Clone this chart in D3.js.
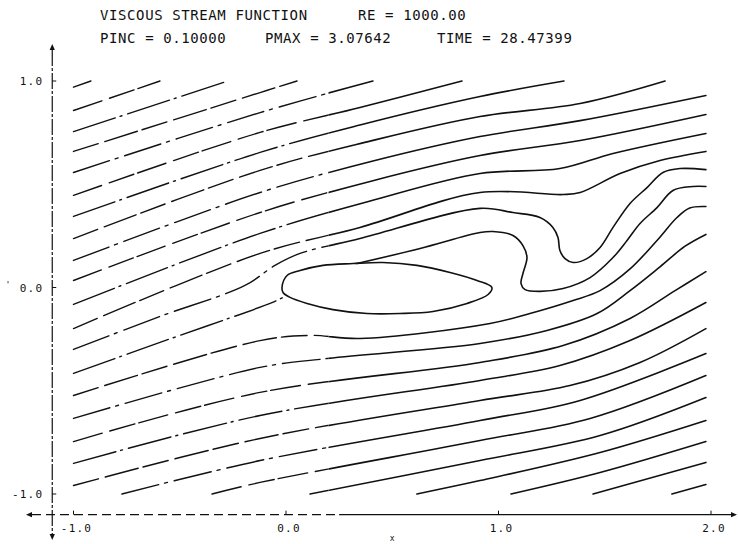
<!DOCTYPE html>
<html>
<head>
<meta charset="utf-8">
<script src="https://cdn.jsdelivr.net/npm/d3@7"></script>
<style>
  body { margin: 0; background: #fff; }
  svg { display: block; }
  text { font-family: "DejaVu Sans Mono", monospace; fill: #111; }
</style>
</head>
<body>
<div class="container"></div>
<script>
// streamlines, in (x, y) data units
const upperLines = [
  [[-1.0, 0.97], [-0.918, 1.0]],
  [[-1.0, 0.857], [-0.593, 1.0]],
  [[-1.0, 0.755], [-0.273, 1.0]],
  [[-1.0, 0.659], [-0.122, 0.944], [0.052, 1.0]],
  [[-1.0, 0.557], [-0.122, 0.847], [0.409, 1.0]],
  [[-1.0, 0.446], [-0.122, 0.751], [0.348, 0.872], [0.828, 1.0]],
  [[-1.0, 0.344], [-0.122, 0.654], [0.348, 0.787], [0.913, 0.925], [1.308, 1.0]],
  [[-1.0, 0.237], [-0.122, 0.567], [0.4, 0.71], [0.913, 0.828], [1.384, 0.891], [1.784, 1.0]],
  [[-1.0, 0.131], [-0.122, 0.46], [0.4, 0.61], [0.913, 0.731], [1.384, 0.808], [1.976, 0.93]],
  [[-1.0, 0.034], [-0.122, 0.363], [0.4, 0.515], [0.913, 0.639], [1.384, 0.712], [1.976, 0.838]],
  [[-1.0, -0.082], [-0.122, 0.262], [0.4, 0.42], [0.913, 0.552], [1.289, 0.576], [1.539, 0.649], [1.976, 0.746]],
  [[-1.0, -0.199], [-0.122, 0.165], [0.348, 0.291], [0.913, 0.46], [1.304, 0.45], [1.384, 0.46], [1.572, 0.552], [1.76, 0.615], [1.976, 0.659]]
];

// the line that dips into the wake
const troughLine = [
  [-1.0, -0.3], [-0.593, -0.14], [-0.193, 0.01], [-0.052, 0.107], [0.066, 0.165],
  [0.348, 0.237], [0.913, 0.383], [1.068, 0.363], [1.195, 0.339], [1.256, 0.291],
  [1.28, 0.242], [1.289, 0.179], [1.313, 0.14], [1.351, 0.121], [1.416, 0.14],
  [1.478, 0.194], [1.539, 0.291], [1.619, 0.407], [1.699, 0.484], [1.774, 0.557],
  [1.854, 0.576], [1.976, 0.571]
];

// streamline leaving the top of the body
const separationLine = [
  [0.334, 0.116], [0.631, 0.189], [0.913, 0.266], [0.974, 0.271], [1.068, 0.252],
  [1.115, 0.203], [1.134, 0.145], [1.115, 0.068], [1.106, 0.019], [1.125, -0.01],
  [1.195, -0.019], [1.304, -0.005], [1.431, 0.048], [1.539, 0.145], [1.605, 0.228],
  [1.666, 0.31], [1.746, 0.387], [1.821, 0.47], [1.915, 0.489], [1.976, 0.489]
];

const lowerLines = [
  [[-1.0, -0.416], [-0.593, -0.266], [-0.066, -0.073], [-0.014, -0.048]],
  [[-1.0, -0.523], [-0.122, -0.257], [0.113, -0.232], [0.348, -0.247], [0.96, -0.174], [1.148, -0.126],
   [1.351, -0.063], [1.478, -0.015], [1.619, 0.09], [1.746, 0.228], [1.84, 0.339], [1.9, 0.385], [1.976, 0.392]],
  [[-1.0, -0.634], [-0.122, -0.387], [0.193, -0.344], [0.913, -0.271], [1.228, -0.208], [1.464, -0.126],
   [1.619, -0.015], [1.76, 0.1], [1.878, 0.2], [1.976, 0.257]],
  [[-1.0, -0.746], [-0.122, -0.508], [0.913, -0.363], [1.304, -0.281], [1.619, -0.15], [1.831, -0.015], [1.976, 0.077]],
  [[-1.0, -0.852], [-0.122, -0.62], [0.913, -0.45], [1.289, -0.378], [1.619, -0.257], [1.976, -0.073]],
  [[-1.0, -0.959], [-0.122, -0.731], [0.913, -0.547], [1.336, -0.475], [1.666, -0.363], [1.976, -0.199]],
  [[-0.772, -1.0], [-0.122, -0.838], [0.913, -0.644], [1.384, -0.547], [1.976, -0.32]],
  [[-0.348, -1.0], [-0.122, -0.944], [0.913, -0.741], [1.431, -0.634], [1.976, -0.426]],
  [[0.113, -1.0], [0.913, -0.838], [1.478, -0.717], [1.976, -0.533]],
  [[0.616, -1.0], [0.913, -0.935], [1.478, -0.799], [1.976, -0.644]],
  [[1.059, -1.0], [1.478, -0.896], [1.976, -0.746]],
  [[1.445, -1.0], [1.976, -0.847]],
  [[1.816, -1.0], [1.976, -0.954]]
];

// outline of the elliptic body
const bodyOutline = [
  [-0.019, 0], [0.005, 0.058], [0.066, 0.082], [0.174, 0.107], [0.315, 0.116],
  [0.456, 0.121], [0.616, 0.107], [0.772, 0.073], [0.899, 0.034], [0.969, 0],
  [0.951, -0.034], [0.852, -0.077], [0.692, -0.116], [0.536, -0.126], [0.381, -0.126],
  [0.221, -0.107], [0.099, -0.077], [0.019, -0.048], [-0.014, -0.024]
];

const xTicks = [-1, 0, 1, 2];
const xTickLabels = ["-1.0", "0.0", "1.0", "2.0"];
const yTicks = [-1, 0, 1];
const yTickLabels = ["-1.0", "0.0", "1.0"];
const axisAt = -1.1;

const titleLine1 = [["VISCOUS STREAM FUNCTION", 100], ["RE = 1000.00", 358]];
const titleLine2 = [["PINC = 0.10000", 100], ["PMAX = 3.07642", 265], ["TIME = 28.47399", 437]];

const width = 738;
const height = 544;

const x = d3.scaleLinear().domain([-1, 2]).range([73.5, 711]);
const y = d3.scaleLinear().domain([-1, 1]).range([494, 81]);

const svg = d3.select(".container")
  .append("svg")
  .attr("width", width)
  .attr("height", height);

svg.append("rect").attr("width", width).attr("height", height).attr("fill", "#fff");

// left side of the plot prints broken, right side solid
const splitX = x(0.2);
const defs = svg.append("defs");
defs.append("clipPath").attr("id", "leftPart")
  .append("rect").attr("x", 0).attr("y", 0).attr("width", splitX).attr("height", height);
defs.append("clipPath").attr("id", "rightPart")
  .append("rect").attr("x", splitX).attr("y", 0).attr("width", width - splitX).attr("height", height);

const line = d3.line()
  .x((d) => x(d[0]))
  .y((d) => y(d[1]))
  .curve(d3.curveCatmullRom.alpha(0.5));

const allLines = upperLines.concat([troughLine, separationLine], lowerLines);

function drawLines(g, dash, w) {
  g.selectAll("path.stream")
    .data(allLines)
    .enter()
    .append("path")
    .attr("class", "stream")
    .attr("d", line)
    .attr("fill", "none")
    .attr("stroke", "#111")
    .attr("stroke-width", w)
    .attr("stroke-dasharray", (d, i) => (dash ? dash[i % dash.length] : null))
    .attr("stroke-linecap", "round");
}

drawLines(svg.append("g").attr("clip-path", "url(#leftPart)"),
  ["38,6,3,7", "30,8,26,4", "44,5,2,6", "26,7,34,5"], 1.4);
drawLines(svg.append("g").attr("clip-path", "url(#rightPart)"), null, 1.6);

svg.append("path")
  .datum(bodyOutline)
  .attr("d", d3.line().x((d) => x(d[0])).y((d) => y(d[1])).curve(d3.curveCatmullRomClosed.alpha(0.5)))
  .attr("fill", "none")
  .attr("stroke", "#111")
  .attr("stroke-width", 1.6);

// axes
const ax = x(axisAt);
const ay = y(axisAt);

svg.append("line")
  .attr("x1", ax).attr("x2", ax).attr("y1", 50).attr("y2", 534)
  .attr("stroke", "#111").attr("stroke-width", 1.2)
  .attr("stroke-dasharray", "16,2,3,2");

svg.append("line")
  .attr("x1", 32).attr("x2", x(0.25)).attr("y1", ay).attr("y2", ay)
  .attr("stroke", "#111").attr("stroke-width", 1.2)
  .attr("stroke-dasharray", "9,5");
svg.append("line")
  .attr("x1", x(0.25)).attr("x2", 732).attr("y1", ay).attr("y2", ay)
  .attr("stroke", "#111").attr("stroke-width", 1.4);

const arrow = (px, py, dir) => {
  const L = 6, W = 2.6;
  let pts;
  if (dir === "up") pts = [[px, py - L], [px - W, py], [px + W, py]];
  if (dir === "down") pts = [[px, py + L], [px - W, py], [px + W, py]];
  if (dir === "left") pts = [[px - L, py], [px, py - W], [px, py + W]];
  if (dir === "right") pts = [[px + L, py], [px, py - W], [px, py + W]];
  svg.append("path").attr("d", "M" + pts.join("L") + "Z").attr("fill", "#111");
};
arrow(ax, 50, "up");
arrow(ax, 534, "down");
arrow(32, ay, "left");
arrow(731, ay, "right");

svg.selectAll(".xtick")
  .data(xTicks)
  .enter()
  .append("line")
  .attr("x1", (d) => x(d)).attr("x2", (d) => x(d))
  .attr("y1", ay).attr("y2", ay - 4)
  .attr("stroke", "#111").attr("stroke-width", 1);

svg.selectAll(".ytick")
  .data(yTicks)
  .enter()
  .append("line")
  .attr("x1", ax).attr("x2", ax + 4)
  .attr("y1", (d) => y(d)).attr("y2", (d) => y(d))
  .attr("stroke", "#111").attr("stroke-width", 1);

svg.selectAll(".xlabel")
  .data(xTicks)
  .enter()
  .append("text")
  .attr("x", (d) => x(d) + 3)
  .attr("y", ay + 17)
  .attr("text-anchor", "middle")
  .attr("font-size", 11)
  .attr("letter-spacing", 1.2)
  .text((d, i) => xTickLabels[i]);

svg.selectAll(".ylabel")
  .data(yTicks)
  .enter()
  .append("text")
  .attr("x", ax - 9)
  .attr("y", (d) => y(d) + 4)
  .attr("text-anchor", "end")
  .attr("font-size", 11)
  .attr("letter-spacing", 1.2)
  .text((d, i) => yTickLabels[i]);

svg.append("text").attr("x", x(0.5)).attr("y", 541).attr("text-anchor", "middle")
  .attr("font-size", 8).text("x");
svg.append("text").attr("x", 8).attr("y", 288).attr("text-anchor", "middle")
  .attr("font-size", 9).text("'");

// header
svg.selectAll(".t1")
  .data(titleLine1)
  .enter()
  .append("text")
  .attr("x", (d) => d[1]).attr("y", 20)
  .attr("font-size", 14).attr("letter-spacing", 0.6)
  .text((d) => d[0]);

svg.selectAll(".t2")
  .data(titleLine2)
  .enter()
  .append("text")
  .attr("x", (d) => d[1]).attr("y", 43)
  .attr("font-size", 14).attr("letter-spacing", 0.6)
  .text((d) => d[0]);
</script>
</body>
</html>
